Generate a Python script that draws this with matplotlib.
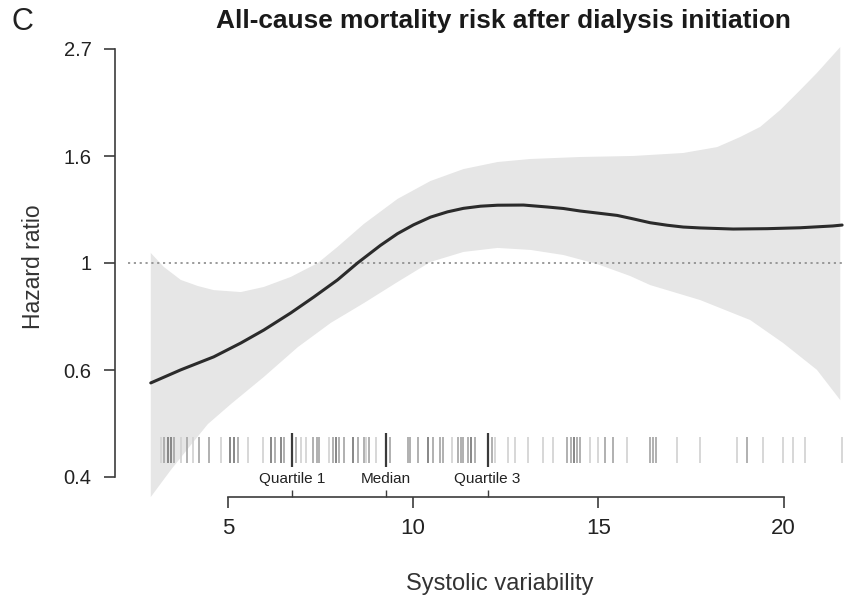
import numpy as np
import matplotlib
matplotlib.use("Agg")
import matplotlib.pyplot as plt
from matplotlib.ticker import FixedLocator, FixedFormatter, NullLocator
import matplotlib.transforms as mtransforms

plt.rcParams['font.family'] = ['Liberation Sans', 'DejaVu Sans']

# Spline estimate of the hazard ratio
curve_x = [2.92, 3.73, 4.62, 5.35, 5.97, 6.70, 7.32, 7.96, 8.50, 9.12, 9.58, 10.01,
           10.47, 10.93, 11.36, 11.82, 12.28, 12.98, 13.63, 14.06, 14.51, 15.05, 15.51,
           15.94, 16.40, 16.86, 17.29, 17.75, 18.64, 19.56, 20.45, 21.33, 21.58]
hazard_ratio = [0.571, 0.607, 0.645, 0.688, 0.731, 0.792, 0.853, 0.924, 1.000, 1.086,
                1.147, 1.195, 1.239, 1.270, 1.291, 1.304, 1.310, 1.311, 1.299, 1.290, 1.275,
                1.261, 1.249, 1.229, 1.207, 1.193, 1.183, 1.178, 1.172, 1.174, 1.179, 1.189,
                1.194]

# 95% confidence band: upper and lower limits
upper_x = [2.92, 3.27, 3.73, 4.19, 4.62, 5.35, 5.97, 6.70, 7.43, 7.96, 8.67, 9.58, 10.47,
           11.36, 12.28, 13.17, 14.51, 15.94, 17.29, 18.21, 18.83, 19.37, 19.91, 20.45,
           20.90, 21.53]
ci_upper = [1.048, 0.982, 0.924, 0.898, 0.881, 0.873, 0.894, 0.937, 1.000, 1.078, 1.200,
            1.349, 1.467, 1.551, 1.603, 1.626, 1.641, 1.649, 1.672, 1.719, 1.802, 1.889,
            2.044, 2.244, 2.430, 2.743]
lower_x = [2.92, 3.46, 4.00, 4.46, 5.08, 5.97, 6.89, 7.78, 8.67, 9.58, 10.47, 11.36, 12.28,
           13.17, 14.06, 14.97, 15.86, 16.40, 17.75, 19.10, 19.99, 20.90, 21.53]
ci_lower = [0.335, 0.380, 0.427, 0.471, 0.517, 0.587, 0.675, 0.756, 0.829, 0.915, 1.005,
            1.053, 1.073, 1.063, 1.038, 0.995, 0.941, 0.902, 0.841, 0.766, 0.688, 0.607,
            0.527]

# Observed values shown as a rug (count = overlapping observations)
rug_values = [3.19, 3.27, 3.38, 3.46, 3.54, 3.73, 3.89, 4.06, 4.22, 4.49, 4.81, 5.05, 5.16,
              5.27, 5.54, 5.94, 6.16, 6.27, 6.43, 6.51, 6.83, 6.97, 7.10, 7.29, 7.40, 7.45,
              7.72, 7.83, 7.91, 7.99, 8.13, 8.37, 8.50, 8.67, 8.72, 8.80, 8.99, 9.39, 9.85,
              9.93, 10.12, 10.39, 10.53, 10.74, 10.80, 11.06, 11.20, 11.28, 11.36, 11.47,
              11.55, 11.68, 12.14, 12.22, 12.55, 12.76, 13.09, 13.52, 13.79, 14.16, 14.25,
              14.33, 14.43, 14.51, 14.78, 15.00, 15.19, 15.40, 15.78, 16.40, 16.48, 16.56,
              17.13, 17.75, 18.75, 19.02, 19.45, 19.99, 20.26, 20.58, 21.57]
rug_counts = [1, 2, 3, 3, 2, 1, 2, 1, 2, 2, 1, 3, 3,
              2, 1, 1, 3, 2, 3, 2, 2, 1, 1, 2, 2, 2,
              1, 2, 3, 2, 2, 3, 2, 2, 1, 2, 1, 2, 2,
              2, 2, 3, 2, 2, 2, 1, 2, 2, 2, 2,
              3, 2, 2, 1, 1, 1, 1, 1, 1, 2, 2,
              3, 2, 2, 1, 1, 2, 2, 1, 2, 2, 2,
              1, 1, 1, 2, 1, 1, 1, 1, 1]

quartile_values = [6.73, 9.26, 12.01]
quartile_labels = ["Quartile 1", "Median", "Quartile 3"]

x_ticks = [5, 10, 15, 20]
y_tick_values = [np.exp(-1), np.exp(-0.5), 1.0, np.exp(0.5), np.exp(1)]
y_tick_labels = ["0.4", "0.6", "1", "1.6", "2.7"]

W, H = 846, 606
fig = plt.figure(figsize=(W / 100, H / 100), dpi=100)
ax_l, ax_r, ax_t, ax_b = 127.8, 844.7, 40, 497
ax = fig.add_axes([ax_l / W, 1 - ax_b / H, (ax_r - ax_l) / W, (ax_b - ax_t) / H])

ax.set_yscale('log')
ax.set_xlim(2.3, 21.65)
ax.set_ylim(np.exp((263 - 497) / 214), np.exp((263 - 40) / 214))

band_x = list(upper_x) + list(lower_x[::-1])
band_y = list(ci_upper) + list(ci_lower[::-1])
ax.fill(band_x, band_y, color='#e6e6e6', lw=0, zorder=1)
ax.plot(curve_x, hazard_ratio, color='#2b2b2b', lw=2.2, solid_capstyle='round',
        solid_joinstyle='round', zorder=3)
ax.axhline(1.0, color='#8a8a8a', lw=1.2, ls=(0, (1.3, 2.2)), zorder=2)

# Rug of observations
trans = mtransforms.blended_transform_factory(ax.transData, ax.transAxes)
shade = {1: '#d4d4d4', 2: '#aaaaaa', 3: '#7e7e7e'}
for xv, c in zip(rug_values, rug_counts):
    ax.plot([xv, xv], [0.074, 0.131], transform=trans, color=shade[c], lw=1.3,
            solid_capstyle='butt', zorder=4)
for xv in quartile_values:
    ax.plot([xv, xv], [0.066, 0.140], transform=trans, color='#3a3a3a', lw=1.6,
            solid_capstyle='butt', zorder=5)

# Axes styling in base-R fashion
axis_color = '#3c3c3c'
for s in ['top', 'right']:
    ax.spines[s].set_visible(False)
ax.spines['left'].set_position(('outward', 9))
ax.spines['left'].set_bounds(y_tick_values[0], y_tick_values[-1])
ax.spines['bottom'].set_bounds(x_ticks[0], x_ticks[-1])
for s in ['left', 'bottom']:
    ax.spines[s].set_color(axis_color)
    ax.spines[s].set_linewidth(1.2)

ax.yaxis.set_major_locator(FixedLocator(y_tick_values))
ax.yaxis.set_major_formatter(FixedFormatter(y_tick_labels))
ax.yaxis.set_minor_locator(NullLocator())
ax.set_xticks(x_ticks)
ax.set_xticklabels([str(t) for t in x_ticks])
ax.set_xticks(quartile_values, minor=True)
ax.tick_params(axis='y', which='major', direction='out', length=8, width=1.2,
               color=axis_color, pad=9, labelsize=14.5, labelcolor='#222222')
ax.tick_params(axis='x', which='major', direction='out', length=8, width=1.2,
               color=axis_color, pad=7, labelsize=16, labelcolor='#222222')
ax.tick_params(axis='x', which='minor', direction='in', length=5, width=1.0,
               color=axis_color, labelbottom=False)

for xv, lab in zip(quartile_values, quartile_labels):
    ax.text(xv, 0.024, lab, transform=trans, ha='center', va='bottom', fontsize=11,
            color='#222222')

fig.text(33 / W, 1 - 267 / H, "Hazard ratio", rotation=90, ha='center', va='center',
         fontsize=16.5, color='#333333')
fig.text(500 / W, 1 - 584 / H, "Systolic variability", ha='center', va='center',
         fontsize=17, color='#333333')

fig.text(503 / W, 1 - 21 / H, "All-cause mortality risk after dialysis initiation",
         ha='center', va='center', fontsize=18.9, fontweight='bold', color='#1a1a1a')
fig.text(11 / W, 1 - 22 / H, "C", ha='left', va='center', fontsize=22, color='#222222')

fig.savefig("out.png", dpi=100)
